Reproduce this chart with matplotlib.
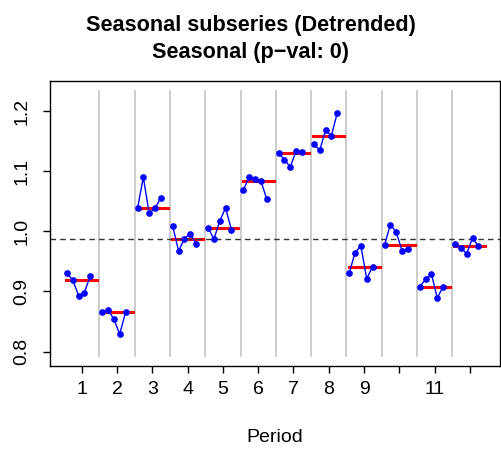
import numpy as np
import matplotlib
matplotlib.use('Agg')
import matplotlib.pyplot as plt

plt.rcParams['font.family'] = ['Liberation Sans', 'DejaVu Sans']

periods = list(range(1, 13))
# detrended values for each period (5 cycles each)
p01 = [0.930, 0.919, 0.893, 0.898, 0.926]
p02 = [0.865, 0.869, 0.854, 0.829, 0.865]
p03 = [1.038, 1.090, 1.030, 1.038, 1.056]
p04 = [1.008, 0.967, 0.988, 0.996, 0.979]
p05 = [1.006, 0.987, 1.017, 1.039, 1.003]
p06 = [1.069, 1.090, 1.087, 1.084, 1.054]
p07 = [1.130, 1.119, 1.107, 1.134, 1.132]
p08 = [1.145, 1.135, 1.168, 1.159, 1.197]
p09 = [0.931, 0.964, 0.976, 0.921, 0.941]
p10 = [0.977, 1.011, 0.999, 0.968, 0.971]
p11 = [0.908, 0.920, 0.929, 0.889, 0.908]
p12 = [0.979, 0.972, 0.963, 0.989, 0.975]
series = [p01, p02, p03, p04, p05, p06, p07, p08, p09, p10, p11, p12]
overall_level = 0.988
tick_labels = ['1', '2', '3', '4', '5', '6', '7', '8', '9', '', '11', '']

fig = plt.figure(figsize=(5.01, 4.49), dpi=100)
ax = fig.add_axes([0.0998, 0.1849, 0.898, 0.6347])

offs = -0.42 + 0.165 * np.arange(5)
for k, vals in zip(periods, series):
    if k < 12:
        ax.plot([k + 0.5, k + 0.5], [0.793, 1.233], color='#c8c8c8', lw=1.3, zorder=1)
    ax.plot(k + offs, vals, '-', color='blue', lw=1, zorder=3)
    ax.plot(k + offs, vals, 'o', color='blue', ms=3.8, zorder=4)
    ax.plot([k - 0.44, k + 0.44], [np.median(vals)] * 2, color='red', lw=2.2, zorder=2)

ax.axhline(overall_level, color='#333333', lw=1, ls=(0, (4, 3)), zorder=2)

ax.set_xlim(0.1, 12.85)
ax.set_ylim(0.776, 1.25)
ax.set_xticks(periods)
ax.set_xticklabels(tick_labels, fontsize=14)
ax.set_yticks([0.8, 0.9, 1.0, 1.1, 1.2])
ax.set_yticklabels(['0.8', '0.9', '1.0', '1.1', '1.2'], fontsize=14, rotation=90, va='center')
ax.tick_params(direction='out', length=5, width=1)
ax.tick_params(axis='x', pad=6)
ax.tick_params(axis='y', pad=9)
for s in ax.spines.values():
    s.set_linewidth(1)
ax.set_xlabel('Period', fontsize=14, labelpad=22)
fig.suptitle('Seasonal subseries (Detrended)\nSeasonal (p\u2212val: 0)', fontsize=15.6,
             fontweight='bold', y=0.967, linespacing=1.4)

fig.savefig('out.png', dpi=100)
